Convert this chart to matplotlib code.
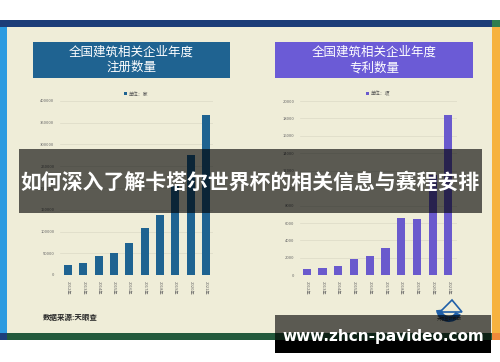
import matplotlib
matplotlib.use("Agg")
import matplotlib.pyplot as plt
from matplotlib.patches import Rectangle, Wedge, Polygon

plt.rcParams["font.family"] = ["Noto Sans CJK SC", "DejaVu Sans"]

years = ["2012年", "2013年", "2014年", "2015年", "2016年",
         "2017年", "2018年", "2019年", "2020年", "2021年"]
registrations = [22000, 28000, 44000, 50000, 73000, 107000, 138000, 205000, 275000, 367000]
patents = [700, 800, 1100, 1870, 2250, 3170, 6550, 6470, 11500, 18400]

reg_ticks = [0, 50000, 100000, 150000, 200000, 250000, 300000, 350000, 400000]
pat_ticks = list(range(0, 20001, 2000))

W, H = 500, 362
fig = plt.figure(figsize=(W / 100, H / 100), dpi=100)
fig.patch.set_facecolor("white")

bg = fig.add_axes([0, 0, 1, 1], zorder=0)
bg.set_xlim(0, W)
bg.set_ylim(H, 0)
bg.axis("off")


def rect(ax, x, y, w, h, color, alpha=1.0):
    ax.add_patch(Rectangle((x, y), w, h, facecolor=color, edgecolor="none", alpha=alpha))


# frame
rect(bg, 0, 20, 492, 7, "#1c3d78")
rect(bg, 492, 20, 8, 7, "#2e7d4f")
rect(bg, 0, 27, 7, 306, "#2c9be0")
rect(bg, 7, 27, 485, 306, "#efedd8")
rect(bg, 492, 27, 8, 306, "#f6b23f")
rect(bg, 0, 333, 7, 7, "#1d3f7a")
rect(bg, 7, 333, 485, 7, "#235a3c")
rect(bg, 492, 333, 8, 7, "#f08a3a")

# title boxes
rect(bg, 33, 42, 197, 36, "#1f6391")
rect(bg, 275, 42, 198, 36, "#6b5bd6")
bg.text(131.5, 60, "全国建筑相关企业年度\n注册数量", color="white", fontsize=9,
        ha="center", va="center", linespacing=1.25)
bg.text(374, 60, "全国建筑相关企业年度\n专利数量", color="white", fontsize=9,
        ha="center", va="center", linespacing=1.25)

bg.text(43, 317, "数据来源:天眼查", fontsize=5.4, fontweight="bold",
        color="#2a2a2a", ha="left", va="center")

# logo
bg.add_patch(Wedge((449, 309), 13, 25, 175, width=6, facecolor="#1f5fa8", edgecolor="none"))
bg.add_patch(Polygon([[440, 312], [452, 300], [462, 312]], closed=True,
                     facecolor="none", edgecolor="#1f5fa8", lw=1.2))
bg.text(449, 318, "天眼查研究院", fontsize=3, color="#333333", ha="center", va="center")


def bar_chart(rect_px, values, ticks, labels, color, unit, x0):
    left, top, right, bottom = rect_px
    ax = fig.add_axes([left / W, 1 - bottom / H, (right - left) / W, (bottom - top) / H], zorder=1)
    ax.patch.set_alpha(0)
    x = list(range(len(values)))
    ax.bar(x, values, width=0.52, color=color, label=unit, zorder=2)
    ax.set_xlim(x0, x0 + 9.98)
    ax.set_ylim(0, ticks[-1])
    ax.set_yticks(ticks)
    ax.set_yticklabels([str(t) for t in ticks], fontsize=3, color="#666666")
    ax.set_xticks(x)
    ax.set_xticklabels(labels, rotation=-90, fontsize=3, color="#666666")
    ax.tick_params(length=0, pad=4)
    ax.grid(axis="y", color="#dcdac6", lw=0.5, zorder=0)
    for s in ax.spines.values():
        s.set_visible(False)
    ax.legend(loc="lower center", bbox_to_anchor=(0.5, 1.0), frameon=False,
              fontsize=3.5, handlelength=0.6, handleheight=0.6, handletextpad=0.4,
              labelcolor="#555555")
    return ax


bar_chart((60, 101, 213, 275), registrations, reg_ticks, years, "#1f6391", "单位：家", -0.52)
bar_chart((300, 101, 457, 275.3), patents, pat_ticks, years, "#6a5acd", "单位：项", -0.43)

# overlays
ov = fig.add_axes([0, 0, 1, 1], zorder=3)
ov.patch.set_alpha(0)
ov.set_xlim(0, W)
ov.set_ylim(H, 0)
ov.axis("off")

rect(ov, 19, 149, 463, 64, "black", alpha=0.62)
ov.text(250, 182, "如何深入了解卡塔尔世界杯的相关信息与赛程安排", color="white",
        fontsize=15, fontweight="bold", ha="center", va="center")

rect(ov, 275, 315, 216, 25, "black", alpha=0.62)
rect(ov, 275, 340, 216, 13, "black")
ov.text(383, 337, "www.zhcn-pavideo.com", color="white", fontsize=11,
        fontweight="bold", ha="center", va="center", family="DejaVu Sans")

fig.savefig("out.png", dpi=100)
